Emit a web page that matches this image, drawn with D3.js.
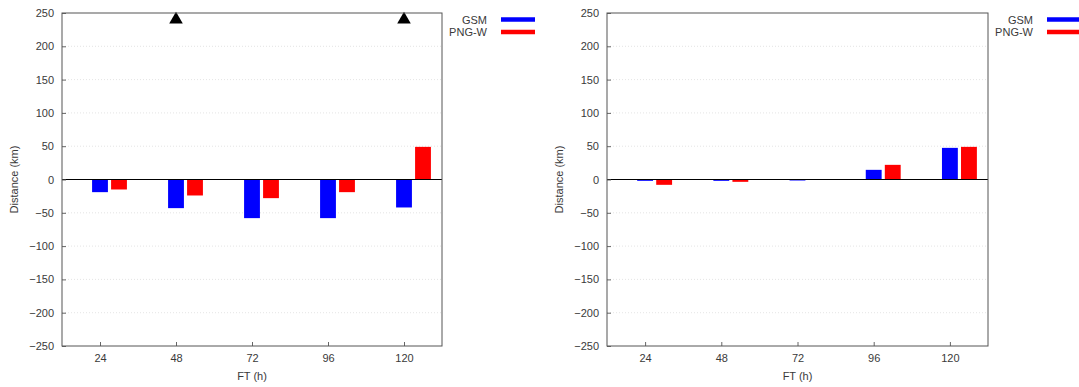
<!DOCTYPE html>
<html>
<head>
<meta charset="utf-8">
<script src="https://cdn.jsdelivr.net/npm/d3@7"></script>
<style>
  body { margin: 0; background: #fff; }
  svg { display: block; font-family: "Liberation Sans", Arial, sans-serif; }
</style>
</head>
<body>
<svg id="chart" width="1079" height="387"></svg>
<script>
// forecast times (h)
var hours = [24, 48, 72, 96, 120];
var seriesNames = ["GSM", "PNG-W"];
var seriesColors = ["#0000ff", "#ff0000"];

// left panel values (km)
var gsmLeft  = [-19, -43, -58, -58, -42];
var pngwLeft = [-15, -24, -28, -19, 49];
// right panel values (km)
var gsmRight  = [-2, -2, -1.5, 14.5, 47.5];
var pngwRight = [-8, -3.5, -0.5, 22, 49];

// triangle markers on the left panel
var markerHours = [48, 120];
var markerValue = 240;

var yTicks = [-250, -200, -150, -100, -50, 0, 50, 100, 150, 200, 250];

var svg = d3.select("#chart");
var textColor = "#3a3a3a";

function drawPanel(left, width, series, markers) {
  var top = 13, height = 333;
  var g = svg.append("g").attr("transform", "translate(" + left + "," + top + ")");

  var x = d3.scaleLinear().domain([12, 132]).range([0, width]);
  var y = d3.scaleLinear().domain([-250, 250]).range([height, 0]);

  // grid
  g.append("g").selectAll("line")
    .data(yTicks.filter(function(d) { return d !== 250 && d !== -250; }))
    .enter().append("line")
    .attr("x1", 0).attr("x2", width)
    .attr("y1", function(d) { return y(d); })
    .attr("y2", function(d) { return y(d); })
    .attr("stroke", "#ddd")
    .attr("stroke-width", 0.8)
    .attr("stroke-dasharray", "1,2");

  // bars
  var barW = x(17) - x(12);
  series.forEach(function(vals, si) {
    g.append("g").selectAll("rect")
      .data(vals)
      .enter().append("rect")
      .attr("x", function(d, i) { return x(hours[i] + si * 6) - barW / 2; })
      .attr("width", barW)
      .attr("y", function(d) { return y(Math.max(0, d)); })
      .attr("height", function(d) { return Math.abs(y(d) - y(0)); })
      .attr("fill", seriesColors[si]);
  });

  // zero line
  g.append("line")
    .attr("x1", 0).attr("x2", width)
    .attr("y1", y(0)).attr("y2", y(0))
    .attr("stroke", "#000").attr("stroke-width", 1);

  // markers
  g.append("g").selectAll("path")
    .data(markers)
    .enter().append("path")
    .attr("transform", function(d) { return "translate(" + x(d) + "," + y(markerValue) + ")"; })
    .attr("d", d3.symbol().type(d3.symbolTriangle).size(80))
    .attr("fill", "#000");

  // axes
  var yAxis = d3.axisLeft(y).tickValues(yTicks).tickSize(-4).tickPadding(8)
    .tickFormat(d3.format("d"));
  var ya = g.append("g").call(yAxis);
  var xAxis = d3.axisBottom(x).tickValues(hours).tickSize(-4).tickPadding(8);
  var xa = g.append("g").attr("transform", "translate(0," + height + ")").call(xAxis);
  [ya, xa].forEach(function(a) {
    a.select(".domain").remove();
    a.selectAll(".tick line").attr("stroke", "#666");
    a.selectAll("text").attr("fill", textColor).attr("font-size", 11);
  });

  // frame
  g.append("rect")
    .attr("width", width).attr("height", height)
    .attr("fill", "none").attr("stroke", "#555").attr("stroke-width", 1);

  // axis labels
  g.append("text")
    .attr("transform", "translate(" + (-44) + "," + (height / 2) + ") rotate(-90)")
    .attr("text-anchor", "middle")
    .attr("font-size", 11).attr("fill", textColor)
    .text("Distance (km)");
  g.append("text")
    .attr("x", width / 2).attr("y", height + 34)
    .attr("text-anchor", "middle")
    .attr("font-size", 11).attr("fill", textColor)
    .text("FT (h)");

  // legend
  seriesNames.forEach(function(name, si) {
    var ly = 6.5 + si * 12.5;
    g.append("text")
      .attr("x", width + 45).attr("y", ly + 4)
      .attr("text-anchor", "end")
      .attr("font-size", 11).attr("fill", textColor)
      .text(name);
    g.append("line")
      .attr("x1", width + 59).attr("x2", width + 93)
      .attr("y1", ly).attr("y2", ly)
      .attr("stroke", seriesColors[si]).attr("stroke-width", 4.5);
  });
}

drawPanel(62, 380, [gsmLeft, pngwLeft], markerHours);
drawPanel(607, 381, [gsmRight, pngwRight], []);
</script>
</body>
</html>
